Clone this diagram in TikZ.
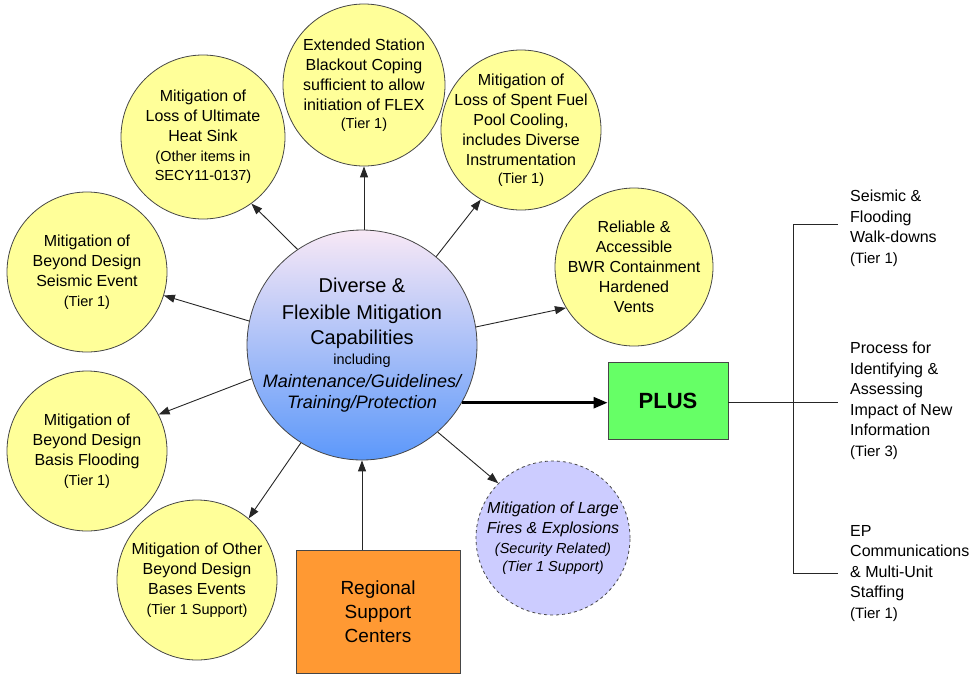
\documentclass[tikz,border=0pt]{standalone}
\usepackage{fontspec}
\setmainfont{Liberation Sans}
\usetikzlibrary{arrows.meta,shapes.geometric}
\definecolor{bubyellow}{RGB}{255,255,153}
\definecolor{bubpurple}{RGB}{204,204,255}
\definecolor{plusgreen}{RGB}{102,255,102}
\definecolor{regorange}{RGB}{255,153,51}
\definecolor{edgegray}{RGB}{70,70,70}
\newcommand{\smalltxt}{\fontsize{14.5}{17}\selectfont}
\begin{document}
\begin{tikzpicture}[x=1pt,y=-1pt,
  bub/.style={circle, draw=edgegray, line width=0.8pt, fill=bubyellow, align=center,
    inner sep=-12pt, font=\fontsize{16}{20}\selectfont},
  arr/.style={-{Triangle[length=11pt,width=8pt]}, line width=0.9pt, draw=black!85},
  bigarr/.style={-{Triangle[length=14pt,width=11pt]}, line width=2.6pt, draw=black},
  boxnode/.style={rectangle, draw=edgegray, line width=0.9pt, align=center, inner sep=0pt},
  sidetxt/.style={anchor=north west, align=left, inner sep=0pt, font=\fontsize{16}{20.5}\selectfont},
  brk/.style={line width=0.8pt, draw=black!85}
]
\useasboundingbox (0,0) rectangle (977,675);

\node[circle, draw=edgegray, line width=0.8pt, minimum size=230pt, inner sep=-12pt, align=center,
  font=\fontsize{20}{24}\selectfont,
  shading=axis, top color={rgb,255:red,248;green,232;blue,246}, middle color={rgb,255:red,176;green,204;blue,244},
  bottom color={rgb,255:red,92;green,152;blue,250}] (C) at (362,345)
  {Diverse \&\\[3pt]
   Flexible Mitigation\\[1pt]
   Capabilities\\[-4pt]
   {\fontsize{14.5}{17}\selectfont including}\\[-1pt]
   {\fontsize{18}{22}\selectfont\itshape Maintenance/Guidelines/}\\[-3pt]
   {\fontsize{18}{22}\selectfont\itshape Training/Protection}};

\node[bub, minimum size=162pt] (T) at (364,85)
  {Extended Station\\Blackout Coping\\sufficient to allow\\initiation of FLEX\\[-2pt]{\smalltxt (Tier 1)}};
\node[bub, minimum size=164pt] (TL) at (203,137)
  {Mitigation of\\Loss of Ultimate\\Heat Sink\\{\smalltxt (Other items in}\\[-1pt]{\smalltxt SECY11-0137)}};
\node[bub, minimum size=160pt] (TR) at (521,130)
  {Mitigation of\\Loss of Spent Fuel\\Pool Cooling,\\includes Diverse\\Instrumentation\\[-2pt]{\smalltxt (Tier 1)}};
\node[bub, minimum size=158pt] (R) at (634,267)
  {Reliable \&\\Accessible\\BWR Containment\\Hardened\\Vents};
\node[bub, minimum size=160pt] (L1) at (87,272)
  {Mitigation of\\Beyond Design\\Seismic Event\\{\smalltxt (Tier 1)}};
\node[bub, minimum size=160pt] (L2) at (87,451)
  {Mitigation of\\Beyond Design\\Basis Flooding\\{\smalltxt (Tier 1)}};
\node[bub, minimum size=160pt] (BL) at (197,580)
  {Mitigation of Other\\Beyond Design\\Bases Events\\{\smalltxt (Tier 1 Support)}};
\node[bub, minimum size=154pt, fill=bubpurple, dashed, font=\fontsize{16}{20}\selectfont\itshape] (P) at (553,538)
  {Mitigation of Large\\Fires \& Explosions\\{\smalltxt\itshape (Security Related)}\\[-2pt]{\smalltxt\itshape (Tier 1 Support)}};

\node[boxnode, fill=plusgreen, minimum width=120pt, minimum height=77pt,
  font=\fontsize{22}{26}\selectfont\bfseries] (plus) at (668,400.5) {PLUS};
\node[boxnode, fill=regorange, minimum width=164pt, minimum height=123pt,
  font=\fontsize{19}{24}\selectfont] (reg) at (378,611.5) {Regional\\Support\\Centers};

\draw[arr] (C.north -| T) -- (T.south);
\draw[arr] (C.124) -- (TL.306);
\draw[arr] (C.50) -- (TR.240);
\draw[arr] (C.9) -- (R.211);
\draw[arr] (C.168) -- (L1.343);
\draw[arr] (C.197) -- (L2.27);
\draw[arr] (C.238) -- (BL.50);
\draw[arr] (C.311) -- (P.135);
\draw[arr] (C |- reg.north) -- (C.south);
\draw[bigarr] (C.-30) -- (C.-30 -| plus.west);

\node[sidetxt] (w1) at (850,190) {Seismic \&\\Flooding\\Walk-downs\\{\fontsize{15}{18}\selectfont (Tier 1)}};
\node[sidetxt] (w2) at (850,342) {Process for\\Identifying \&\\Assessing\\Impact of New\\Information\\{\fontsize{15}{18}\selectfont (Tier 3)}};
\node[sidetxt] (w3) at (850,525) {EP\\Communications\\\& Multi-Unit\\Staffing\\{\fontsize{15}{18}\selectfont (Tier 1)}};

\coordinate (bt) at (793,224);
\coordinate (bm) at (793,402);
\coordinate (bb) at (793,573);
\draw[brk] (plus.east |- bm) -- (bm);
\draw[brk] (bt) -- (bb);
\draw[brk] (bt) -- ++(45,0);
\draw[brk] (bm) -- ++(45,0);
\draw[brk] (bb) -- ++(45,0);
\end{tikzpicture}
\end{document}
